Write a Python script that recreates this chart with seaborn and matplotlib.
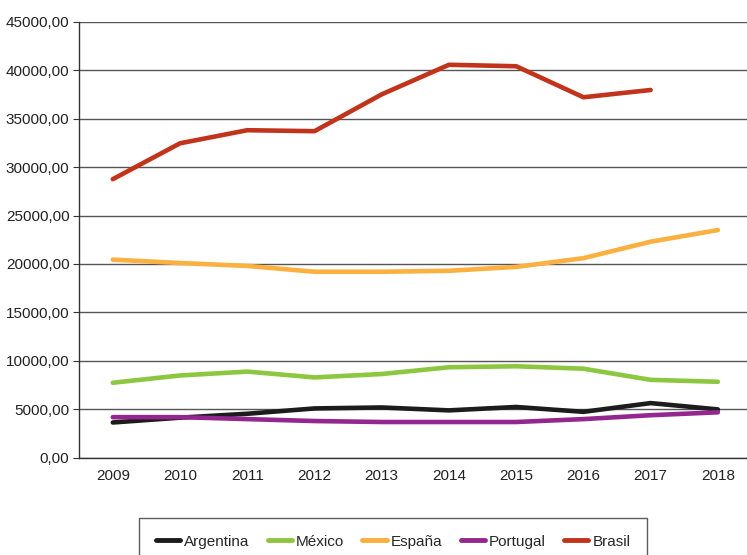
import pandas as pd
import numpy as np
import seaborn as sns
from matplotlib import pyplot as plt
from matplotlib.ticker import FuncFormatter

years = [2009, 2010, 2011, 2012, 2013, 2014, 2015, 2016, 2017, 2018]
argentina = [3650, 4150, 4550, 5100, 5200, 4900, 5250, 4750, 5650, 5000]
mexico = [7750, 8500, 8900, 8300, 8650, 9350, 9450, 9200, 8050, 7850]
espana = [20450, 20100, 19800, 19200, 19200, 19300, 19700, 20600, 22300, 23500]
portugal = [4200, 4200, 4000, 3800, 3700, 3700, 3700, 4000, 4400, 4700]
brasil = [28750, 32450, 33800, 33700, 37500, 40550, 40400, 37200, 37950, np.nan]

countries = ["Argentina", "México", "España", "Portugal", "Brasil"]
colors = ["#1c1c1c", "#8dc63f", "#fbb040", "#93278f", "#c1331a"]

df = pd.DataFrame({
    "year": years * 5,
    "pos": list(range(len(years))) * 5,
    "value": argentina + mexico + espana + portugal + brasil,
    "country": [c for c in countries for _ in years],
})

sns.set_style("white")
plt.rcParams["font.family"] = ["Liberation Sans", "DejaVu Sans"]

fig = plt.figure(figsize=(7.47, 5.55), dpi=100)
ax = fig.add_axes([0.106, 0.175, 0.9, 0.786])

ax.yaxis.grid(True, color="#555555", linewidth=1)
ax.set_axisbelow(True)

sns.lineplot(data=df, x="pos", y="value", hue="country", hue_order=countries,
             palette=colors, linewidth=3.3, ax=ax, legend=False)

ax.set_xlim(-0.5, 9.5)
ax.set_ylim(0, 45000)
ax.set_yticks(range(0, 45001, 5000))
ax.yaxis.set_major_formatter(FuncFormatter(lambda v, p: f"{v:.2f}".replace(".", ",")))
ax.set_xticks(range(len(years)))
ax.set_xticklabels([str(y) for y in years])
ax.set_xticks(np.arange(-0.5, 9.6, 1), minor=True)
ax.tick_params(axis="x", which="major", length=0, pad=8, labelsize=11, colors="#222222")
ax.tick_params(axis="x", which="minor", length=4, color="#333333", direction="out")
ax.tick_params(axis="y", length=4, color="#333333", direction="out", labelsize=11,
               colors="#222222", left=True, pad=3)
ax.set_xlabel("")
ax.set_ylabel("")

for s in ["top", "right"]:
    ax.spines[s].set_visible(False)
for s in ["left", "bottom"]:
    ax.spines[s].set_color("#333333")
    ax.spines[s].set_linewidth(1)

handles = [plt.Line2D([0], [0], color=c, linewidth=3.5, solid_capstyle="round") for c in colors]
leg = fig.legend(handles, countries, loc="upper center", bbox_to_anchor=(0.526, 0.067),
                 ncol=5, frameon=True, fancybox=False, fontsize=11,
                 handlelength=1.6, handletextpad=0.25, columnspacing=1.2,
                 borderpad=1.1, borderaxespad=0)
leg.get_frame().set_edgecolor("#333333")
leg.get_frame().set_linewidth(1)

fig.savefig("out.png", dpi=100)
plt.close(fig)
